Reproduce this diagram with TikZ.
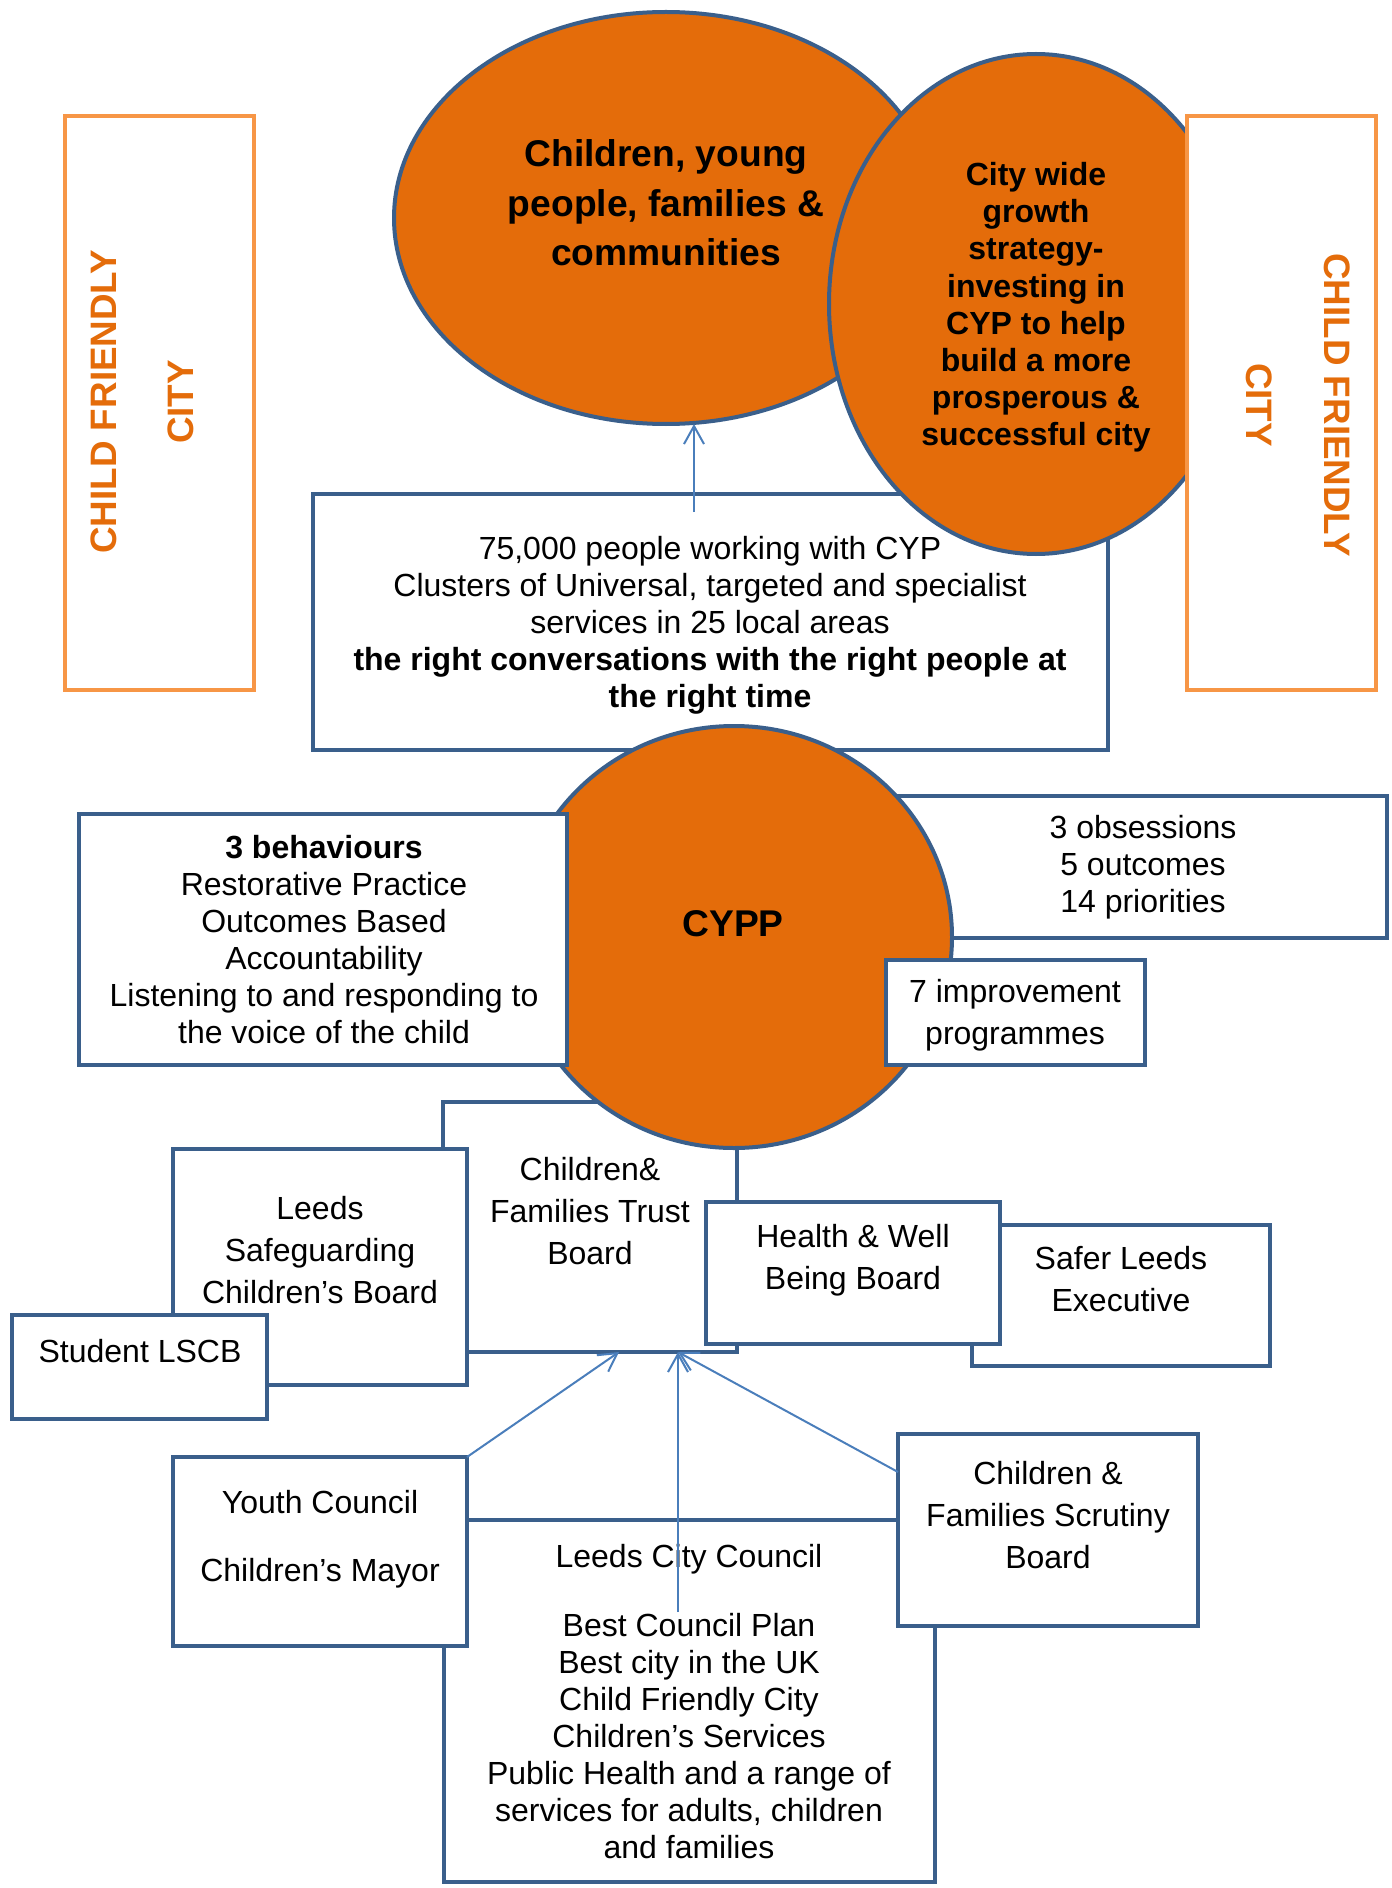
\documentclass[tikz,border=0pt]{standalone}
\usepackage{fontspec}
\setmainfont{Liberation Sans}
\usetikzlibrary{arrows.meta,fit,shapes.geometric}
\definecolor{bluebd}{HTML}{3A5F8B}
\definecolor{arrowblue}{HTML}{4A7EBB}
\definecolor{orfill}{HTML}{E46C0A}
\definecolor{cfcbd}{HTML}{F79646}
\definecolor{cfctext}{HTML}{E46C0A}
\begin{document}
\begin{tikzpicture}[x=0.5pt,y=-0.5pt,
 box/.style={draw=bluebd, line width=2pt, fill=white, inner sep=0pt, outer sep=0pt, rectangle},
 cfcbox/.style={draw=cfcbd, line width=2pt, fill=white, inner sep=0pt, outer sep=0pt, rectangle},
 blob/.style={ellipse, draw=bluebd, line width=2pt, fill=orfill, inner sep=0pt, outer sep=0pt},
 txt/.style={inner sep=0pt, align=center, font=\fontsize{16}{18.5}\selectfont},
 txtw/.style={inner sep=0pt, align=center, font=\fontsize{16}{21}\selectfont},
 bigb/.style={inner sep=0pt, align=center, font=\fontsize{18.6}{24.7}\selectfont\bfseries},
 smb/.style={inner sep=0pt, align=center, font=\fontsize{16}{18.6}\selectfont\bfseries},
 cfct/.style={inner sep=0pt, text=cfctext, font=\fontsize{18.4}{22}\selectfont\bfseries},
 arr/.style={draw=arrowblue, line width=1pt, -{Straight Barb[length=9pt,width=10pt]}}
]
\fill[white] (0,0) rectangle (1391,1888);
\useasboundingbox (0,0) rectangle (1391,1888);

% left child friendly city box
\node[cfcbox, fit={(65,116) (254,690)}] (cfcL) {};

% top ellipse
\node[blob, minimum width=272pt, minimum height=206pt] (e1) at (666,218) {};

% 75,000 box
\node[box, fit={(313,494) (1108,750)}] (b75) {};

% growth ellipse
\node[blob, minimum width=207pt, minimum height=250pt] (e2) at (1036,304) {};

% right child friendly city box
\node[cfcbox, fit={(1187,116) (1376,690)}] (cfcR) {};

\node[bigb] (e1t) at (666,203) {Children, young\\people, families \&\\communities};
\node[smb] (e2t) at (1036,307.5) {City wide\\growth\\strategy-\\investing in\\CYP to help\\build a more\\prosperous \&\\successful city};
\node[txt] (b75t) at (710,625.5) {75,000 people working with CYP\\Clusters of Universal, targeted and specialist\\services in 25 local areas\\\textbf{the right conversations with the right people at}\\\textbf{the right time}};

\node[cfct, rotate=90] (cfcL1) at (104,402) {CHILD FRIENDLY};
\node[cfct, rotate=90] (cfcL2) at (181,402) {CITY};
\node[cfct, rotate=-90] (cfcR1) at (1337,405) {CHILD FRIENDLY};
\node[cfct, rotate=-90] (cfcR2) at (1259,405) {CITY};

% middle level
\node[box, fit={(898,796) (1387,938)}] (bObs) {};
\node[box, fit={(443,1102) (737,1352)}] (tb) {};
\node[blob, minimum width=218pt, minimum height=211pt] (cypp) at (734,937) {};
\node[box, fit={(79,814) (567,1065)}] (bBeh) {};
\node[box, fit={(886,960) (1145,1065)}] (b7) {};

\node[bigb] (cyppt) at (733,924) {CYPP};
\node[txt] (bObst) at (1143,867.5) {3 obsessions\\5 outcomes\\14 priorities};
\node[txt] (bBeht) at (324,940) {\textbf{3 behaviours}\\Restorative Practice\\Outcomes Based\\Accountability\\Listening to and responding to\\the voice of the child};
\node[txtw] (b7t) at (1015,1015.5) {7 improvement\\programmes};

% boards
\node[box, fit={(173,1149) (467,1385)}] (bSafe) {};
\node[box, fit={(12,1315) (267,1419)}] (bStud) {};
\node[box, fit={(972,1225) (1270,1366)}] (bSL) {};
\node[box, fit={(706,1202) (1000,1344)}] (bHW) {};

\node[txtw] (tbt) at (590,1211) {Children\&\\Families Trust\\Board};
\node[txtw] (bSafet) at (320,1250) {Leeds\\Safeguarding\\Children’s Board};
\node[txtw] (bStudt) at (140,1351) {Student LSCB};
\node[txtw] (bHWt) at (853,1260.5) {Health \& Well\\Being Board};
\node[txtw] (bSLt) at (1121,1279) {Safer Leeds\\Executive};

% bottom level
\node[box, fit={(444,1520) (935,1882)}] (bLCC) {};
\node[box, fit={(173,1457) (467,1646)}] (bYC) {};
\node[box, fit={(898,1434) (1198,1626)}] (bScr) {};

\node[txtw] (bYCt1) at (320,1502) {Youth Council};
\node[txtw] (bYCt2) at (320,1573) {Children’s Mayor};
\node[txtw] (bScrt) at (1048,1515) {Children \&\\Families Scrutiny\\Board};
\node[txt] (bLCCt1) at (689,1559.5) {Leeds City Council};
\node[txt] (bLCCt2) at (689,1736.5) {Best Council Plan\\Best city in the UK\\Child Friendly City\\Children’s Services\\Public Health and a range of\\services for adults, children\\and families};

% connectors
\coordinate (a1) at (694,512);
\draw[arr] (a1) -- (a1 |- e1.south);
\coordinate (a3) at (678,1612);
\draw[arr] (bYC.north east) -- ([xshift=88pt]tb.south west);
\draw[arr] (a3) -- (a3 |- tb.south);
\draw[arr] ([yshift=-19pt]bScr.north west) -- ([xshift=117.5pt]tb.south west);
\end{tikzpicture}
\end{document}
